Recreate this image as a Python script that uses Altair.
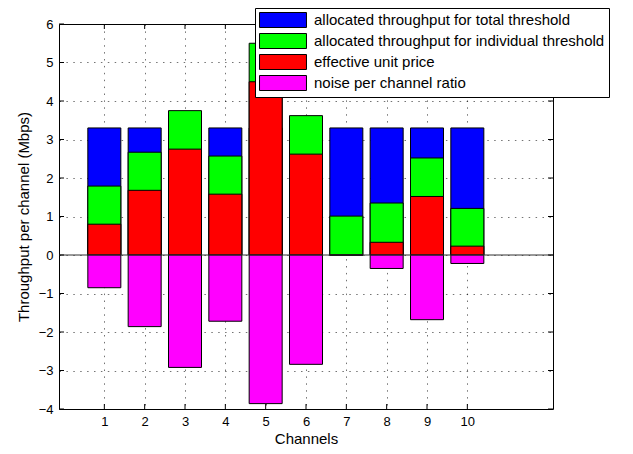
import altair as alt
import pandas as pd

channels = [1, 2, 3, 4, 5, 6, 7, 8, 9, 10]
total_threshold = [3.3, 3.3, 3.3, 3.3, 3.3, 3.3, 3.3, 3.3, 3.3, 3.3]
individual_threshold = [1.79, 2.67, 3.75, 2.57, 5.5, 3.62, 1.01, 1.35, 2.52, 1.21]
unit_price = [0.8, 1.68, 2.75, 1.58, 4.5, 2.62, 0.0, 0.33, 1.52, 0.23]
noise_ratio = [-0.85, -1.86, -2.92, -1.72, -3.86, -2.84, 0.0, -0.35, -1.68, -0.22]

series_names = [
    "allocated throughput for total threshold",
    "allocated throughput for individual threshold",
    "effective unit price",
    "noise per channel ratio",
]
series_colors = ["#0000ff", "#00ff00", "#ff0000", "#ff00ff"]

x_ticks = [1, 2, 3, 4, 5, 6, 7, 8, 9, 10]
y_ticks = [-4, -3, -2, -1, 0, 1, 2, 3, 4, 5, 6]

rows = []
for i, (name, vals) in enumerate(
    zip(series_names, [total_threshold, individual_threshold, unit_price, noise_ratio])
):
    for c, v in zip(channels, vals):
        rows.append({"channel": c, "value": v, "series": name, "idx": i})
df = pd.DataFrame(rows)

W, H = 494, 385
xscale = alt.Scale(domain=[0, 12], nice=False, zero=False)
yscale = alt.Scale(domain=[-4, 6], nice=False)

x_axis = alt.Axis(values=x_ticks, grid=True, labelPadding=6, titlePadding=3)
y_axis = alt.Axis(values=y_ticks, grid=True, labelPadding=6, titlePadding=7,
                  labelExpr="replace(datum.label, '-', '\u2212')")
x_title = "Channels"
y_title = "Throughput per channel (Mbps)"

rect_path = "M-3.13,-1H3.13V1H-3.13Z"

bars = alt.Chart(df).mark_bar(size=33, stroke="black", strokeWidth=1, opacity=1).encode(
    x=alt.X("channel:Q", scale=xscale, axis=x_axis, title=x_title),
    y=alt.Y("value:Q", scale=yscale, stack=None, axis=y_axis, title=y_title),
    color=alt.Color("series:N",
                    scale=alt.Scale(domain=series_names, range=series_colors),
                    legend=alt.Legend(orient="none", legendX=196, legendY=-16, title=None,
                                      padding=4, strokeColor="black", fillColor="white",
                                      labelFontSize=15, labelLimit=600,
                                      symbolType=rect_path, symbolSize=225,
                                      symbolOffset=16, labelOffset=23, rowPadding=1,
                                      symbolStrokeColor="black", symbolStrokeWidth=1,
                                      symbolOpacity=1, labelColor="black",
                                      cornerRadius=0)),
    order=alt.Order("idx:Q"),
)

zero_df = pd.DataFrame({"z": [0]})
zero_line = alt.Chart(zero_df).mark_rule(color="#333333", strokeWidth=1).encode(
    y=alt.Y("z:Q", scale=yscale, axis=y_axis, title=y_title)
)

xt = pd.DataFrame({"t": x_ticks})
yt = pd.DataFrame({"t": y_ticks})
tick_bottom = alt.Chart(xt).mark_rule(color="black").encode(
    x=alt.X("t:Q", scale=xscale, axis=x_axis, title=x_title), y=alt.value(H), y2=alt.value(H - 5))
tick_top = alt.Chart(xt).mark_rule(color="black").encode(
    x=alt.X("t:Q", scale=xscale, axis=x_axis, title=x_title), y=alt.value(0), y2=alt.value(5))
tick_left = alt.Chart(yt).mark_rule(color="black").encode(
    y=alt.Y("t:Q", scale=yscale, axis=y_axis, title=y_title), x=alt.value(0), x2=alt.value(5))
tick_right = alt.Chart(yt).mark_rule(color="black").encode(
    y=alt.Y("t:Q", scale=yscale, axis=y_axis, title=y_title), x=alt.value(W - 5), x2=alt.value(W))

chart = alt.layer(bars, zero_line, tick_bottom, tick_top, tick_left, tick_right).properties(
    width=W, height=H,
    autosize=alt.AutoSizeParams(type="none"),
    padding={"left": 51, "top": 16, "right": 72, "bottom": 37},
).configure_view(
    stroke="black", strokeWidth=1
).configure_axis(
    labelFont="Liberation Sans", titleFont="Liberation Sans",
    labelFontSize=13, titleFontSize=15, titleFontWeight="normal",
    labelColor="black", titleColor="black",
    domain=False, ticks=False,
    gridColor="black", gridDash=[1.5, 5.4], gridOpacity=0.55, gridWidth=1,
).configure_legend(
    labelFont="Liberation Sans"
)

chart.save("out.html", embed_options={"renderer": "svg", "actions": False})
